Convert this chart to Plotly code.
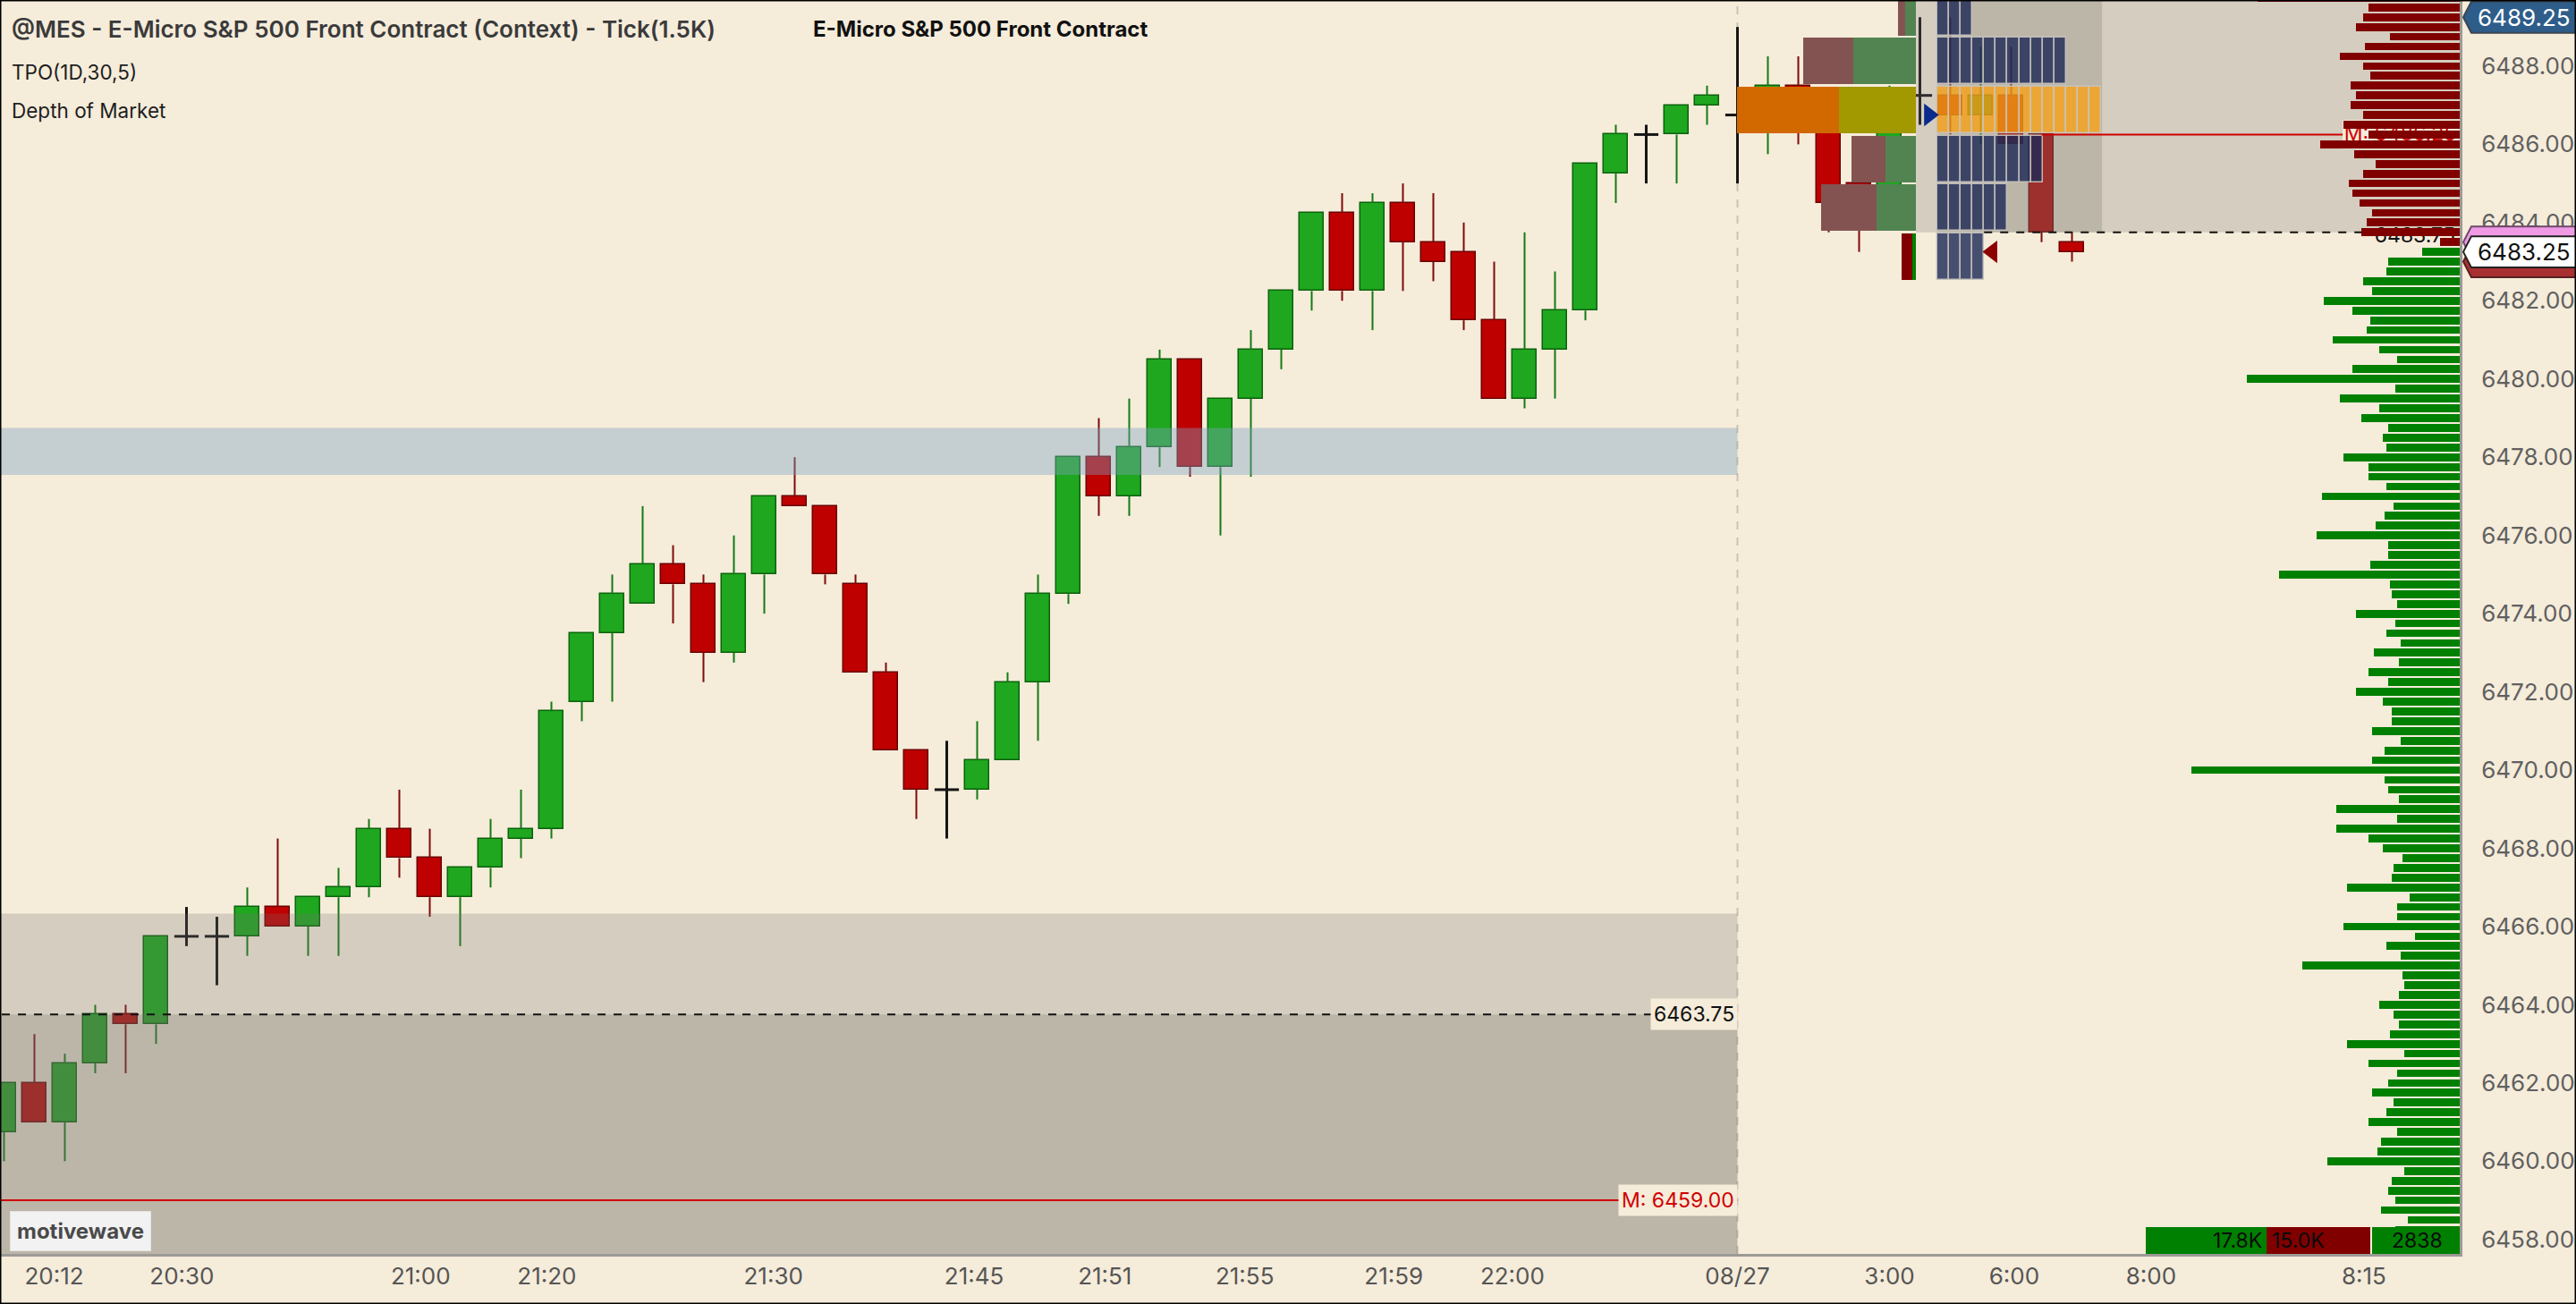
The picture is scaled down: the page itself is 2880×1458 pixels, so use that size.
import plotly.graph_objects as go

# ---- 1.5K tick bars (bar index 0..68) ----
opens = [6460.75, 6462.0, 6461.0, 6462.5, 6463.75, 6463.5, 6465.75, 6465.75, 6465.75, 6466.5,
         6466.0, 6466.75, 6467.0, 6468.5, 6467.75, 6466.75, 6467.5, 6468.25, 6468.5, 6471.75,
         6473.5, 6474.25, 6475.25, 6474.75, 6473.0, 6475.0, 6477.0, 6476.75, 6474.75, 6472.5,
         6470.5, 6469.5, 6469.5, 6470.25, 6472.25, 6474.5, 6478.0, 6477.0, 6478.25, 6480.5,
         6477.75, 6479.5, 6480.75, 6482.25, 6484.25, 6482.25, 6484.5, 6483.5, 6483.25, 6481.5,
         6479.5, 6480.75, 6481.75, 6485.25, 6486.25, 6486.25, 6487.0, 6486.75, 6486.75, 6487.5,
         6486.5, 6485.0, 6484.75, 6487.25, 6487.25, 6486.75, 6487.25, 6486.25, 6483.5]
highs = [6462.0, 6463.25, 6462.75, 6464.0, 6464.0, 6465.75, 6466.5, 6466.25, 6467.0, 6468.25,
         6466.75, 6467.5, 6468.75, 6469.5, 6468.5, 6467.5, 6468.75, 6469.5, 6471.75, 6473.5,
         6475.0, 6476.75, 6475.75, 6475.0, 6476.0, 6477.0, 6478.0, 6476.75, 6475.0, 6472.75,
         6470.5, 6470.75, 6471.25, 6472.5, 6475.0, 6478.0, 6479.0, 6479.5, 6480.75, 6480.5,
         6479.5, 6481.25, 6482.25, 6484.25, 6484.75, 6484.75, 6485.0, 6484.75, 6484.0, 6483.0,
         6483.75, 6482.75, 6485.5, 6486.5, 6486.5, 6487.0, 6487.5, 6489.0, 6488.25, 6488.25,
         6487.0, 6485.25, 6487.5, 6489.25, 6489.25, 6488.5, 6488.5, 6486.25, 6483.75]
lows = [6460.0, 6461.0, 6460.0, 6462.25, 6462.25, 6463.0, 6465.5, 6464.5, 6465.25, 6466.0,
        6465.25, 6465.25, 6466.75, 6467.25, 6466.25, 6465.5, 6467.0, 6467.75, 6468.25, 6471.25,
        6471.75, 6474.25, 6473.75, 6472.25, 6472.75, 6474.0, 6476.75, 6474.75, 6472.5, 6470.5,
        6468.75, 6468.25, 6469.25, 6470.25, 6470.75, 6474.25, 6476.5, 6476.5, 6477.75, 6477.5,
        6476.0, 6477.5, 6480.25, 6481.75, 6482.0, 6481.25, 6482.25, 6482.5, 6481.25, 6479.5,
        6479.25, 6479.5, 6481.5, 6484.5, 6485.0, 6485.0, 6486.5, 6485.0, 6485.75, 6486.0,
        6483.75, 6483.25, 6484.5, 6486.5, 6486.25, 6486.0, 6486.25, 6483.5, 6483.0]
closes = [6462.0, 6461.0, 6462.5, 6463.75, 6463.5, 6465.75, 6465.75, 6465.75, 6466.5, 6466.0,
          6466.75, 6467.0, 6468.5, 6467.75, 6466.75, 6467.5, 6468.25, 6468.5, 6471.5, 6473.5,
          6474.5, 6475.25, 6474.75, 6473.0, 6475.0, 6477.0, 6476.75, 6475.0, 6472.5, 6470.5,
          6469.5, 6469.5, 6470.25, 6472.25, 6474.5, 6478.0, 6477.0, 6478.25, 6480.5, 6477.75,
          6479.5, 6480.75, 6482.25, 6484.25, 6482.25, 6484.5, 6483.5, 6483.0, 6481.5, 6479.5,
          6480.75, 6481.75, 6485.5, 6486.25, 6486.25, 6487.0, 6487.25, 6486.75, 6487.5, 6486.5,
          6484.5, 6484.0, 6487.25, 6487.25, 6486.75, 6487.25, 6486.0, 6483.75, 6483.25]

# time labels (bar index where each label sits)
tick_pos = [1.65, 5.85, 13.7, 17.85, 25.3, 31.9, 36.2, 40.8, 45.7, 49.6, 57.0, 62.0, 66.1, 70.6, 77.6]
tick_text = ["20:12", "20:30", "21:00", "21:20", "21:30", "21:45", "21:51", "21:55", "21:59",
             "22:00", "08/27", "3:00", "6:00", "8:00", "8:15"]
price_ticks = [6458, 6460, 6462, 6464, 6466, 6468, 6470, 6472, 6474, 6476, 6478, 6480, 6482, 6484, 6486, 6488]

# reference levels
prev_zone_top = 6466.33     # light zone of the prior session
prev_va_top = 6463.75       # darker zone / dashed level
band_low, band_high = 6477.55, 6478.75
prev_mid = 6459.00
curr_zone_low = 6483.75
curr_mid = 6486.25
last_price = 6483.25
bid_tag, ask_tag = 6483.00, 6483.50
session_high = 6489.25

# session volume profile, 1.25 pt rows
prof_rows = [6489.375, 6488.125, 6486.875, 6485.625, 6484.375, 6483.125]
prof_sell = [40, 280, 570, 190, 310, 60]
prof_buy = [60, 350, 430, 170, 220, 20]
tpo_counts = [3, 11, 14, 9, 6, 4]

# depth of market (ask from the top level down, bid from the best bid down)
ask_top = 6489.75
ask_sizes = [226, 102, 108, 116, 78, 106, 134, 108, 100, 122, 116, 122, 108, 130, 102, 156,
             118, 94, 108, 124, 120, 112, 98, 104, 110, 22]
bid_top = 6483.25
bid_sizes = [42, 80, 82, 108, 98, 152, 120, 100, 104, 142, 90, 70, 120, 238, 72, 134, 90, 110,
             80, 86, 82, 130, 102, 102, 82, 154, 74, 84, 94, 160, 80, 80, 100, 202, 78, 76,
             70, 116, 72, 82, 66, 96, 68, 102, 80, 116, 86, 76, 76, 98, 66, 84, 98, 300,
             84, 80, 68, 138, 70, 138,
             102, 86, 64, 74, 76, 126, 56, 70, 70, 130, 50, 82, 66, 176, 64, 62, 68, 90,
             74, 68, 78, 126, 62, 102, 70, 80, 98, 74, 82, 102, 70, 88, 92, 148, 62, 76,
             80, 72, 88, 58, 72]
dom_totals = ["17.8K", "15.0K", "2838"]

# ---- layout constants ----
BG = "#F5ECDA"
FONT = "Inter"
X_RANGE = [-0.132, 80.75]
Y_RANGE = [6457.63, 6489.69]
BAR_W = 0.8
SESSION_START = 57
PROF_RIGHT = 62.87
PROF_SCALE = 1 / 170.0
ROW_H = 1.19
TPO_LEFT = 63.57
TPO_CELL = 0.385
VA_RIGHT = 68.99
DOM_MAX = 2750
PX = 1 / 2750.0   # one pixel in paper units (plot width)
PY = 1 / 1402.0

fig = go.Figure()
idx = list(range(len(opens)))
up = [i for i in idx if closes[i] > opens[i]]
dn = [i for i in idx if closes[i] < opens[i]]
flat = [i for i in idx if closes[i] == opens[i]]


def to_paper_y(price):
    return (price - Y_RANGE[0]) / (Y_RANGE[1] - Y_RANGE[0])


def wick_trace(ids, color):
    xs, ys = [], []
    for i in ids:
        top, bot = max(opens[i], closes[i]), min(opens[i], closes[i])
        if highs[i] > top:
            xs += [i, i, None]
            ys += [top, highs[i], None]
        if lows[i] < bot:
            xs += [i, i, None]
            ys += [lows[i], bot, None]
    return go.Scatter(x=xs, y=ys, mode="lines", line=dict(color=color, width=2),
                      hoverinfo="skip", showlegend=False)


def body_trace(ids, fill, edge):
    return go.Bar(x=ids, y=[abs(closes[i] - opens[i]) for i in ids],
                  base=[min(opens[i], closes[i]) for i in ids], width=BAR_W,
                  marker=dict(color=fill, line=dict(color=edge, width=1.5)),
                  hoverinfo="skip", showlegend=False)


def box_trace(x0, x1, y0, y1, color, xa="x", ya="y"):
    return go.Scatter(x=[x0, x1, x1, x0, x0], y=[y0, y0, y1, y1, y0], mode="lines",
                      fill="toself", fillcolor=color, line=dict(width=0),
                      xaxis=xa, yaxis=ya, hoverinfo="skip", showlegend=False)


# candles
fig.add_trace(body_trace(up, "#1FA71F", "#0B620B"))
fig.add_trace(body_trace(dn, "#BE0000", "#6A0000"))
fig.add_trace(wick_trace(up, "#137A13"))
fig.add_trace(wick_trace(dn, "#7E0A0A"))
dx, dy = [], []
for i in flat:
    dx += [i, i, None, i - BAR_W / 2, i + BAR_W / 2, None]
    dy += [lows[i], highs[i], None, opens[i], opens[i], None]
fig.add_trace(go.Scatter(x=dx, y=dy, mode="lines", line=dict(color="#151515", width=3),
                         hoverinfo="skip", showlegend=False))

# shaded zones over the candles
far_left, far_right = X_RANGE[0] - 1, X_RANGE[1] + 1
y_lo, y_hi = Y_RANGE[0] - 1, Y_RANGE[1] + 1
fig.add_trace(box_trace(far_left, SESSION_START, y_lo, prev_zone_top, "rgba(118,110,110,0.25)"))
fig.add_trace(box_trace(far_left, SESSION_START, y_lo, prev_va_top, "rgba(110,110,100,0.24)"))
fig.add_trace(box_trace(far_left, SESSION_START, band_low, band_high, "rgba(125,163,193,0.40)"))
fig.add_trace(box_trace(PROF_RIGHT, far_right, curr_zone_low, y_hi, "rgba(118,110,110,0.25)"))
fig.add_trace(box_trace(TPO_LEFT, VA_RIGHT, curr_zone_low, y_hi, "rgba(110,110,100,0.24)"))

# ---- overlay layer: session profile, TPO, levels ----
poc = max(range(len(prof_rows)), key=lambda k: prof_sell[k] + prof_buy[k])
sell_len = [v * PROF_SCALE for v in prof_sell]
buy_len = [v * PROF_SCALE for v in prof_buy]
sell_col, buy_col = [], []
for k, r in enumerate(prof_rows):
    if k == poc:
        sell_col.append("#D26900"); buy_col.append("#A29800")
    elif r > curr_zone_low:
        sell_col.append("#835352"); buy_col.append("#528452")
    else:
        sell_col.append("#800000"); buy_col.append("#008000")
fig.add_trace(go.Bar(orientation="h", y=prof_rows, x=sell_len,
                     base=[PROF_RIGHT - b - s for s, b in zip(sell_len, buy_len)],
                     width=ROW_H, marker=dict(color=sell_col, line=dict(width=0)),
                     xaxis="x2", yaxis="y2", hoverinfo="skip", showlegend=False))
fig.add_trace(go.Bar(orientation="h", y=prof_rows, x=buy_len,
                     base=[PROF_RIGHT - b for b in buy_len],
                     width=ROW_H, marker=dict(color=buy_col, line=dict(width=0)),
                     xaxis="x2", yaxis="y2", hoverinfo="skip", showlegend=False))

cy, cb, cc = [], [], []
for k, (r, n) in enumerate(zip(prof_rows, tpo_counts)):
    for j in range(n):
        cy.append(r)
        cb.append(TPO_LEFT + j * TPO_CELL)
        cc.append("rgba(255,160,10,0.72)" if k == poc else "rgba(28,40,85,0.80)")
fig.add_trace(go.Bar(orientation="h", y=cy, x=[TPO_CELL] * len(cy), base=cb, width=ROW_H,
                     marker=dict(color=cc, line=dict(color="rgba(200,196,190,0.9)", width=1.5)),
                     xaxis="x2", yaxis="y2", hoverinfo="skip", showlegend=False))


def level_line(x0, x1, y, color, dash="solid", width=2):
    return go.Scatter(x=[x0, x1], y=[y, y], mode="lines",
                      line=dict(color=color, width=width, dash=dash),
                      xaxis="x2", yaxis="y2", hoverinfo="skip", showlegend=False)


fig.add_trace(level_line(far_left, SESSION_START, prev_va_top, "#111111", "dash"))
fig.add_trace(level_line(far_left, SESSION_START, prev_mid, "#D00000"))
fig.add_trace(level_line(67.0, far_right, curr_mid, "#D00000"))
fig.add_trace(level_line(TPO_LEFT + tpo_counts[-1] * TPO_CELL, far_right, curr_zone_low,
                         "#111111", "dash"))

# label of the current mid (sits under the DOM bars)
fig.add_trace(box_trace(76.9, far_right, curr_mid - 0.37, curr_mid + 0.37, BG, "x2", "y2"))
fig.add_trace(go.Scatter(x=[76.95], y=[curr_mid - 0.02], mode="text", text=[f"M: {curr_mid:.2f}"],
                         textposition="middle right",
                         textfont=dict(family=FONT, size=23, color="#D00000"),
                         xaxis="x2", yaxis="y2", hoverinfo="skip", showlegend=False))
fig.add_trace(go.Scatter(x=[80.6], y=[curr_zone_low - 0.12], mode="text", text=[f"{curr_zone_low:.2f}"],
                         textposition="middle left",
                         textfont=dict(family=FONT, size=23, color="#111111"),
                         xaxis="x2", yaxis="y2", hoverinfo="skip", showlegend=False))

# bid / ask markers
fig.add_trace(go.Scatter(x=[63.3], y=[6486.75], mode="markers",
                         marker=dict(symbol="triangle-right", size=22, color="#0A2A8C"),
                         xaxis="x2", yaxis="y2", hoverinfo="skip", showlegend=False))
fig.add_trace(go.Scatter(x=[65.38], y=[last_price], mode="markers",
                         marker=dict(symbol="triangle-left", size=22, color="#8B0000"),
                         xaxis="x2", yaxis="y2", hoverinfo="skip", showlegend=False))

# ---- top layer: depth of market ----
ask_prices = [ask_top - 0.25 * k for k in range(len(ask_sizes))]
bid_prices = [bid_top - 0.25 * k for k in range(len(bid_sizes))]
fig.add_trace(go.Bar(orientation="h", y=ask_prices, x=ask_sizes, width=0.2,
                     marker=dict(color="#800000", line=dict(width=0)),
                     xaxis="x3", yaxis="y3", hoverinfo="skip", showlegend=False))
fig.add_trace(go.Bar(orientation="h", y=bid_prices, x=bid_sizes, width=0.2,
                     marker=dict(color="#008000", line=dict(width=0)),
                     xaxis="x3", yaxis="y3", hoverinfo="skip", showlegend=False))

axis_font = dict(family=FONT, size=26, color="#555555")
fig.update_layout(
    width=2880, height=1458,
    margin=dict(l=0, r=130, t=0, b=56),
    paper_bgcolor=BG, plot_bgcolor=BG,
    barmode="overlay", bargap=0, hovermode=False, showlegend=False,
    font=dict(family=FONT),
    xaxis=dict(range=X_RANGE, tickvals=tick_pos, ticktext=tick_text, showgrid=False,
               zeroline=False, showline=True, linecolor="#9C9A96", linewidth=3,
               ticks="", tickfont=axis_font, ticklabelstandoff=0, fixedrange=True),
    yaxis=dict(range=Y_RANGE, side="right", tickvals=price_ticks, tickformat=".2f",
               showgrid=False, zeroline=False, showline=True, linecolor="#9C9A96",
               linewidth=3, ticks="", tickfont=dict(family=FONT, size=26, color="#606060"),
               ticklabelstandoff=16),
    xaxis2=dict(range=X_RANGE, overlaying="x", visible=False),
    yaxis2=dict(range=Y_RANGE, overlaying="y", visible=False),
    xaxis3=dict(range=[DOM_MAX, 0], overlaying="x", visible=False),
    yaxis3=dict(range=Y_RANGE, overlaying="y", visible=False),
)

# session divider
fig.add_shape(type="line", xref="x", yref="paper", x0=SESSION_START, x1=SESSION_START, y0=0, y1=1,
              line=dict(color="#C9C2B6", width=2, dash="dash"), layer="below")


def price_tag(price, fill, edge):
    yc = to_paper_y(price)
    h = to_paper_y(Y_RANGE[0] + 0.4)
    tip, body, end = 1 + 4 * PX, 1 + 13 * PX, 1 + 130 * PX
    path = (f"M {tip},{yc} L {body},{yc + h} L {end},{yc + h} "
            f"L {end},{yc - h} L {body},{yc - h} Z")
    fig.add_shape(type="path", xref="paper", yref="paper", path=path, fillcolor=fill,
                  line=dict(color=edge, width=2), layer="above")


price_tag(ask_tag, "#F09AE6", "#6E4A6A")
price_tag(bid_tag, "#A83030", "#5A2020")
price_tag(last_price, "#FFFFFF", "#222222")
price_tag(session_high, "#2E5D8A", "#3A4652")
fig.add_annotation(xref="paper", yref="paper", x=1 + 72 * PX, y=to_paper_y(last_price),
                   text=f"{last_price:.2f}", showarrow=False, xanchor="center", yanchor="middle",
                   font=dict(family=FONT, size=26, color="#111111"))
fig.add_annotation(xref="paper", yref="paper", x=1 + 72 * PX, y=to_paper_y(session_high),
                   text=f"{session_high:.2f}", showarrow=False, xanchor="center", yanchor="middle",
                   font=dict(family=FONT, size=26, color="#FFFFFF"))

# DOM totals strip
strip = [(2399, 2534, "#008000"), (2534, 2650, "#800000"), (2652, 2750, "#008000")]
for x0, x1, col in strip:
    fig.add_shape(type="rect", xref="paper", yref="paper", x0=x0 * PX, x1=x1 * PX, y0=0,
                  y1=30 * PY, fillcolor=col, line=dict(width=0), layer="above")
tot_font = dict(family=FONT, size=23, color="#0A0A0A")
fig.add_annotation(xref="paper", yref="paper", x=2531 * PX, y=15 * PY, text=dom_totals[0],
                   xanchor="right", yanchor="middle", showarrow=False, font=tot_font)
fig.add_annotation(xref="paper", yref="paper", x=2538 * PX, y=15 * PY, text=dom_totals[1],
                   xanchor="left", yanchor="middle", showarrow=False, font=tot_font)
fig.add_annotation(xref="paper", yref="paper", x=2702 * PX, y=15 * PY, text=dom_totals[2],
                   xanchor="center", yanchor="middle", showarrow=False, font=tot_font)

# level labels at the session divider
fig.add_annotation(x=SESSION_START, y=prev_va_top, text=f"{prev_va_top:.2f}", xanchor="right",
                   yanchor="middle", showarrow=False, bgcolor=BG, borderpad=3,
                   font=dict(family=FONT, size=23, color="#111111"))
fig.add_annotation(x=SESSION_START, y=prev_mid, text=f"M: {prev_mid:.2f}", xanchor="right",
                   yanchor="middle", showarrow=False, bgcolor=BG, borderpad=3,
                   font=dict(family=FONT, size=23, color="#D00000"))

# titles
fig.add_annotation(xref="paper", yref="paper", x=11 * PX, y=1 - 32 * PY, xanchor="left",
                   yanchor="middle",
                   text="@MES - E-Micro S&P 500 Front Contract (Context) - Tick(1.5K)",
                   showarrow=False, font=dict(family=FONT, size=26, color="#3A3A3A", weight=600))
fig.add_annotation(xref="paper", yref="paper", x=1096 * PX, y=1 - 32 * PY, xanchor="center",
                   yanchor="middle", text="E-Micro S&P 500 Front Contract", showarrow=False,
                   font=dict(family=FONT, size=24, color="#111111", weight=700))
fig.add_annotation(xref="paper", yref="paper", x=11 * PX, y=1 - 80 * PY, xanchor="left",
                   yanchor="middle", text="TPO(1D,30,5)", showarrow=False,
                   font=dict(family=FONT, size=22.5, color="#1E1E1E"))
fig.add_annotation(xref="paper", yref="paper", x=11 * PX, y=1 - 123 * PY, xanchor="left",
                   yanchor="middle", text="Depth of Market", showarrow=False,
                   font=dict(family=FONT, size=22.5, color="#1E1E1E"))
fig.add_annotation(xref="paper", yref="paper", x=11 * PX, y=1 - 1376 * PY, xanchor="left",
                   yanchor="middle", text="motivewave", showarrow=False, bgcolor="#F2F2F2",
                   bordercolor="#E4E4E4", borderpad=7,
                   font=dict(family=FONT, size=24, color="#4A4A4A", weight=700))

# outer frame
fig.add_shape(type="rect", xref="paper", yref="paper", x0=0, x1=1 + 130 * PX, y0=-56 * PY, y1=1,
              line=dict(color="#000000", width=3), layer="above")

fig.write_html("out.html", config={"displayModeBar": False},
               post_script="document.body.style.margin = '0';")
